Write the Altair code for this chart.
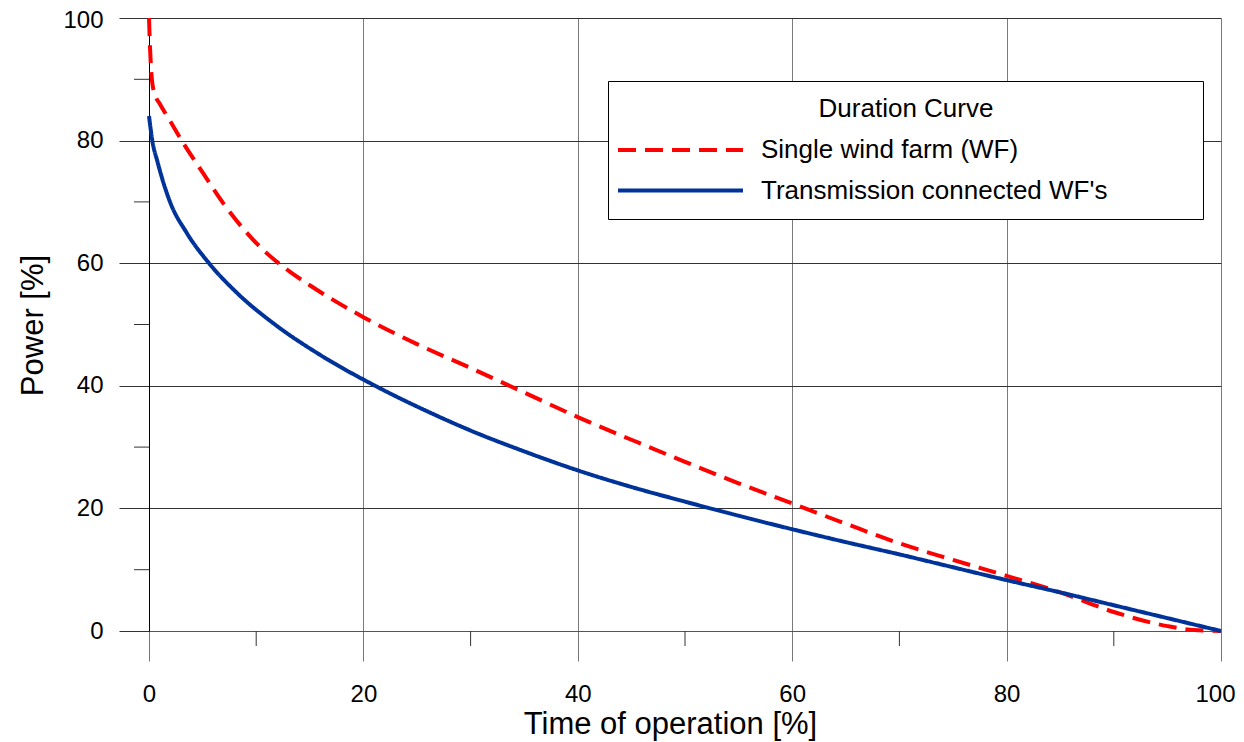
import altair as alt
import pandas as pd

# Single wind farm (WF) duration curve
single_x = [0, 0.1, 0.3, 0.6, 1, 2, 3.05, 5, 7, 9, 11, 13, 15, 20, 25, 30, 35, 40, 45, 50, 55, 60, 65, 70, 75, 80, 85, 90, 95, 97.5, 100]
single_y = [100, 95, 89.5, 87.3, 86, 83.1, 80, 74.8, 69.6, 65.2, 61.6, 58.8, 56.4, 51.2, 46.8, 42.9, 38.9, 34.9, 31.2, 27.6, 24.1, 20.8, 17.5, 14.3, 11.6, 9.0, 6.3, 3.1, 0.8, 0.15, 0]

# Transmission connected WF's duration curve
trans_x = [0, 0.31, 0.8, 1.96, 3.5, 5.6, 8.3, 11.75, 16, 21.1, 27, 30, 35, 40, 45, 50, 55, 60, 65, 70, 75, 80, 85, 90, 95, 100]
trans_y = [84, 80, 76.5, 70, 65, 60, 55, 50, 45, 40, 35, 32.7, 29.3, 26.2, 23.5, 21.1, 18.8, 16.6, 14.5, 12.5, 10.4, 8.3, 6.3, 4.2, 2.1, 0]

series_names = ["Single wind farm (WF)", "Transmission connected WF's"]
series_colors = ["#ff0000", "#003399"]
major_ticks = [0, 20, 40, 60, 80, 100]
minor_ticks = [10, 30, 50, 70, 90]

rows = []
for i, (xs, ys) in enumerate([(single_x, single_y), (trans_x, trans_y)]):
    for j, (a, b) in enumerate(zip(xs, ys)):
        rows.append({"time": a, "power": b, "series": series_names[i], "order": j})
df = pd.DataFrame(rows)
minor_df = pd.DataFrame({"m": minor_ticks})

W, H = 1072, 613
FONT = "Liberation Sans"
xscale = alt.Scale(domain=[0, 100], nice=False, zero=False)
yscale = alt.Scale(domain=[0, 100], nice=False, zero=False)

legend = alt.Legend(title="Duration Curve", orient="none", legendX=459, legendY=63)

lines = alt.Chart(df).mark_line(strokeWidth=4, interpolate="monotone").encode(
    x=alt.X("time:Q", scale=xscale, title="Time of operation [%]",
            axis=alt.Axis(values=major_ticks, tickSize=30, tickColor="#777777", gridColor="#7a7a7a",
                          domainColor="#555555", labelFontSize=24, labelFont=FONT, labelColor="black",
                          labelPadding=21, labelFlush=False,
                          labelAlign={"condition": {"test": "datum.value == 100", "value": "right"}, "value": "center"},
                          labelOffset={"condition": {"test": "datum.value == 100", "value": 14}, "value": 0},
                          titleFont=FONT, titleFontSize=31,
                          titleFontWeight="normal", titleColor="black", titleBaseline="alphabetic",
                          titleY=102, titleX=521)),
    y=alt.Y("power:Q", scale=yscale, title="Power [%]",
            axis=alt.Axis(values=major_ticks, tickSize=30, tickColor="#333333", gridColor="#333333",
                          domainColor="black", labelFontSize=24, labelFont=FONT, labelColor="black",
                          labelPadding=16, labelFlush=False,
                          labelOffset={"condition": {"test": "datum.value == 100", "value": 2.5}, "value": 0},
                          titleFont=FONT, titleFontSize=31,
                          titleFontWeight="normal", titleColor="black", titleBaseline="alphabetic",
                          titleX=-107, titleY=307)),
    color=alt.Color("series:N", scale=alt.Scale(domain=series_names, range=series_colors), legend=legend),
    strokeDash=alt.StrokeDash("series:N", scale=alt.Scale(domain=series_names, range=[[18, 9], [1, 0]]),
                              legend=legend),
    order="order:Q",
)

xminor = alt.Chart(minor_df).mark_rule(color="#333333", strokeWidth=1).encode(
    x=alt.X("m:Q", scale=xscale),
    y=alt.value(H),
    y2=alt.value(H + 15),
)
yminor = alt.Chart(minor_df).mark_rule(color="#333333", strokeWidth=1).encode(
    y=alt.Y("m:Q", scale=yscale),
    x=alt.value(-15),
    x2=alt.value(0),
)

chart = alt.layer(lines, xminor, yminor).properties(
    width=W, height=H,
    background="white",
    autosize=alt.AutoSizeParams(type="none"),
    padding={"left": 141, "top": 10, "right": 15, "bottom": 110},
).configure_view(stroke=None).configure_axis(
    grid=True, tickWidth=1, gridWidth=1, domainWidth=1,
).configure_legend(
    symbolType="M-1.56,0H8.44M43.4,0", symbolSize=625, symbolStrokeWidth=4,
    labelFont=FONT, labelFontSize=26, labelColor="black", labelOffset=109, labelLimit=600,
    titleFont=FONT, titleFontSize=26, titleFontWeight="normal", titleColor="black",
    titleAnchor="middle", titlePadding=13.5, titleLimit=1000,
    rowPadding=12.5, padding=15, strokeColor="black", fillColor="white",
)

chart.save("out.html", embed_options={"renderer": "svg", "actions": False})
